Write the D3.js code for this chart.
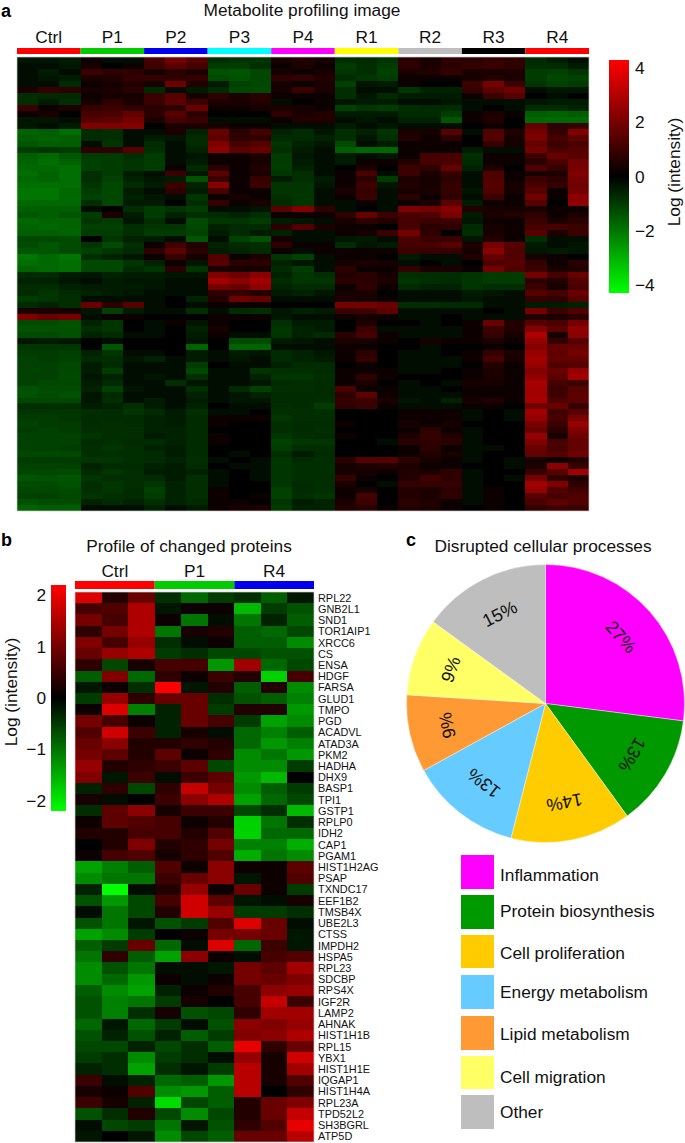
<!DOCTYPE html>
<html><head><meta charset="utf-8">
<script src="https://cdn.jsdelivr.net/npm/d3@7"></script>
<style>html,body{margin:0;padding:0;background:#fff}svg{display:block}text{font-family:"Liberation Sans",Arial,sans-serif;fill:#111}</style>
</head><body><div id="c"></div>
<script>
const metaboliteGroups=["Ctrl","P1","P2","P3","P4","R1","R2","R3","R4"];
const metaboliteGroupColors=["#ff0000","#00cc00","#0000ee","#00ffff","#ff00ff","#ffff00","#bebebe","#000000","#ff0000"];
const metaboliteTicks=[4,2,0,-2,-4];
const metaboliteRows=[
[-.4,-.4,-.5,.2,-.2,-.2,1.2,2.0,1.5,-.8,-.9,-.9,.5,.6,.4,-.8,-.7,-.9,.7,.4,.8,.7,.9,.8,-.7,-.5,-.3],
[-.3,-.3,-.4,.4,.1,.3,1.1,1.5,1.2,-1.0,-1.0,-.8,.3,.5,.2,-1.0,-.8,-1.0,.8,.5,.7,.9,1.0,.8,-.8,-.7,-.5],
[-.2,-.5,-.2,1.0,.8,.8,.4,.7,.5,-1.4,-1.5,-1.2,.4,.3,.4,-.9,-.8,-1.1,.5,.6,.9,.5,.5,.5,-1,-1.1,-.9],
[-.3,-.4,-.5,.5,.6,.9,.9,.8,.9,-1.3,-1.4,-1.2,.8,.9,.6,-.7,-.9,-1,.3,.2,.3,.4,.6,.5,-1.0,-1.2,-1.1],
[-.2,-.3,-.7,.3,.4,.6,.4,1.9,.6,-.5,-1.1,-1.2,.4,.3,.5,-1.1,-.4,-.5,.2,.1,.1,1.0,2.0,1.0,-.9,-1.1,-1],
[.5,.9,.8,.4,.5,.7,-.7,-.3,-.5,-.7,-1.2,-1.3,.4,1.0,.5,-.8,-.2,-.2,-.9,-.6,-.6,.9,1.6,1.9,-.3,-.4,-.4],
[-.8,-.7,-.7,.2,.4,.4,1.0,1.5,.4,.8,.5,.7,.2,.3,.3,-.8,-.4,-.7,-.5,-.5,-.5,.2,1.0,1.5,-.1,-.2,-.1],
[-.8,-.5,-.8,.4,.8,.5,1.0,1.6,1.0,.5,.5,.6,-.2,.1,.2,-.4,-.5,-.5,-.3,-.3,-.4,-.2,-.2,-.2,-.4,-.5,-.5],
[1.0,.3,.5,.9,1.0,.8,.7,.8,1.8,.3,.2,.4,.5,.4,.3,-1.1,-.9,-1,-.8,-.7,-.7,-.2,-.1,-.3,-.7,-.7,-.6],
[.2,.5,.1,1.2,1.3,1.7,.7,1.5,.7,-.1,.1,-.1,.8,.5,.6,-.5,-.5,-.5,-.7,-.7,-1.0,.3,.5,.2,-1.6,-1.7,-1.6],
[-.4,-.4,-.2,1.5,1.6,2.0,.5,1.2,1,-.2,-.2,-.3,.3,.6,.6,-.3,-.4,-.3,-.6,-.6,-1.5,.2,.6,.1,-1.8,-1.8,-1.8],
[-.4,-.3,-.5,2.2,2.2,2.3,-.1,.5,.5,.4,.3,.3,-.3,-.3,-.3,-.5,-.3,-.4,-.2,-.2,-.3,-.1,.2,-.1,1.7,.8,.9],
[-1.7,-1.6,-1.9,-.7,-.8,-.2,-.2,.5,-.6,1.8,.7,1.2,-.6,-.7,-.4,-.8,-.6,-.9,.5,.4,1.5,-.3,1.4,.6,2.0,.9,2.2],
[-1.6,-1.7,-1.6,-.7,-.8,-.3,-.5,-.4,-.7,1.6,.8,.8,-.7,-.7,-.6,-.8,-.4,-.8,.6,.3,.7,.1,1.5,.4,2.1,1.2,1.6],
[-1.5,-1.6,-1.6,-.2,-.9,-.2,-.7,-.3,-.7,2.2,1.2,1.5,-.9,-.6,-.4,-1.3,-.2,-.5,.2,.3,.2,.1,.9,.4,1.7,1.0,1.3],
[-1.0,-.9,-1.0,.8,.8,1.5,-.8,-.3,-.6,2.4,1.6,1.8,-.8,-.5,-.3,-1.6,-1.8,-1.8,.2,.2,.2,-.5,-.3,-.3,2.0,1.3,1.5],
[-1.6,-1.8,-1.5,-1.0,-1.0,-.8,-1,-.3,-.4,.3,.3,.5,-1.0,-.4,-.2,-.5,-.3,-.4,.3,1.2,1.3,-.8,.3,.2,1.0,1.8,1.5],
[-1.7,-1.9,-1.7,-1.1,-1.0,-.9,-1,-.2,-.5,.2,.2,.4,-1,-.5,-.3,-.5,.3,.2,.6,1.2,1.3,-.7,.2,.2,.7,1.3,2.0],
[-1.8,-1.8,-1.9,-1.1,-1.0,-.9,-1,.2,-.7,.7,.2,.6,-1.0,-.6,-.3,.1,.5,.1,1.0,.8,1.7,-.6,.5,.1,1.4,.9,2.0],
[-1.9,-1.7,-1.9,-.8,-1.0,-.5,-.3,1.0,-.4,1.6,.3,.5,-.9,-.8,-.3,.2,1.3,-.2,1.0,.5,.9,-.3,1.4,.3,.4,.5,2.2],
[-1.8,-1.7,-1.9,-.8,-1.1,-.6,-.4,-.5,-1.4,1.0,.3,.9,-.5,-.8,-.5,.2,.7,-1.0,.5,.4,.7,-.3,1.4,.3,1.0,.7,2.0],
[-1.9,-1.9,-1.9,-.9,-1.2,-.7,-.5,1.0,-.6,2.3,.2,1.0,-.9,-.9,-.4,.3,1.1,-.4,.6,.4,.9,-.3,1.5,.4,1.3,.9,1.9],
[-2.0,-2.0,-1.8,-1.0,-1.2,-.5,-.2,.8,-.5,1.3,.3,.2,-.9,-.9,-.3,.5,.9,-.3,.4,.5,.9,-.4,1.4,.4,1.5,.2,2.0],
[-2.0,-2.0,-1.8,-1.1,-1.2,-.6,-.4,-.3,-.9,.2,.4,.2,-.8,-.9,-.2,.3,1.0,-.2,.7,.3,.8,-.3,1.0,.3,1.9,.2,2.4],
[-1.8,-1.8,-1.8,-.8,-1.2,-.5,-.5,-.1,-.8,.9,.2,.5,-.7,-.9,-.3,-.2,.3,-.3,.3,.5,1.6,-.5,.2,.2,1.5,.1,2.5],
[-1.6,-1.6,-1.6,-.2,.1,-.8,-1.0,-.9,-1.0,-.3,-.2,-.4,1.5,2.2,.8,-.3,-.1,-.2,2.2,2.0,2.3,.6,.4,.4,.5,.3,.2],
[-1.5,-1.6,-1.5,-1.0,.5,-.5,-1.0,-.6,-.8,-.7,-.6,-.8,.2,.3,.3,.8,1.8,1.0,1.3,1.4,2.1,-.5,.5,.6,.8,.3,.5],
[-1.8,-1.7,-1.7,-.9,-1.0,-.4,-.8,-.3,-1.3,-.9,-.9,-1.0,-.5,-.4,-.2,.4,.7,.6,1.2,1.0,1.0,-.4,.3,.3,1.0,.5,.7],
[-1.7,-1.8,-1.7,-1.1,-1.1,-.8,-.9,-.9,-1.2,-.6,-.7,-.7,.7,1.4,.5,.3,.2,.1,1.2,.7,.8,-.7,.4,.3,1.2,1.2,1.0],
[-1.6,-1.6,-1.7,-1.0,-1.0,-.8,-1.0,-1.0,-1.1,-.5,-.7,-.5,-.6,-.3,-.3,.3,.4,1.0,2.0,.8,.1,-.8,.4,.2,1.5,.5,1.0],
[-1.2,-1.2,-1.3,-.1,-.9,-.6,-.5,-.2,-1.5,-.2,-1.1,-1.4,.4,-.3,-.2,-.4,-.5,-.3,1.3,1.0,1.0,-.4,.6,.3,-.8,-.2,-.3],
[-1.3,-1.5,-1.3,-.9,-1.3,-.8,.2,1.1,.6,-.6,-.7,-.8,.7,.3,.2,-.7,-.4,-.5,1.2,1.2,1.5,.5,2.0,1.5,-.5,-.3,-.4],
[-1.5,-1.5,-1.3,-1.1,-.9,-.7,.8,1.6,.7,-.5,-.6,-.7,.2,-.2,.2,.3,.3,.3,1.0,.9,.9,.4,2.4,1.4,-.4,-.5,-.4],
[-2.0,-1.8,-2.0,-.8,-.6,-.4,.2,.9,.4,1.4,.3,.5,-.9,-1.1,-.3,.2,.2,.1,-.5,-.3,-.2,.6,1.7,1.4,.4,.3,.1],
[-1.9,-1.8,-1.9,-1.2,-1.2,-.9,-.6,.3,-.4,1.5,.7,.7,-.6,-.4,-.3,.4,.5,.4,-.2,-.1,-.2,.1,1.4,1.5,.9,.3,.7],
[-1.7,-1.8,-1.9,-1.2,-1.2,-.7,-.9,.7,-.9,.5,.4,.4,-.7,-1.0,-.2,.7,.3,.2,.9,.5,.5,.2,2.0,1.4,1.0,.5,.6],
[-.7,-.7,-.5,-.4,-.6,-.5,-.5,-.4,-.4,2.2,1.9,2.4,-.6,-.9,-.8,.6,.7,.4,-.8,-.8,-.8,-.9,-1.0,-1.0,2.0,1.2,1.8],
[-.6,-.6,-.4,-.3,-.5,-.4,-.4,-.3,-.3,2.8,2.4,2.8,-.7,-.9,-.9,.7,.7,.5,-.9,-.8,-.7,-.9,-1,-1,.8,.6,1.4],
[-.7,-.7,-.6,-.5,-.5,-.5,-.4,-.3,-.3,2.0,1.8,2.5,-.6,-.7,-.7,.3,.8,.3,-.7,-.6,-.6,-.9,-.8,-.8,1.0,.4,1.3],
[-.7,-.9,-.7,-.6,-.5,-.4,-.3,-.2,-.2,.8,.9,.6,-.5,-.6,-.4,.4,.5,.1,-.3,-.3,-.2,-.5,-.4,-.3,1.5,1.2,1.8],
[-1.0,-.9,-.8,-.3,-.3,-.2,-.2,-.1,-.6,.6,1.9,1.7,-.3,-.3,-.2,.5,.4,.2,-.3,-.3,-.2,-.4,-.3,-.2,.9,.8,1.5],
[-.7,-.6,-.8,1.8,.7,1.5,-.2,-.1,-.2,.2,.3,.2,.1,.1,.1,2.0,2.0,1.8,-.8,-.8,-.7,-.7,-.2,-.3,-.5,-.5,-.6],
[.5,.5,.4,-.4,-1.1,-.5,-.2,-.3,-.8,-.3,-.7,-.8,-.4,-.6,-.5,1.0,1.1,1.6,-.3,-.3,-.2,-.2,-.1,-.2,2.0,1.0,1.4],
[2.2,1.8,2.0,-.2,.3,.3,-.1,-.1,-.1,.2,.2,.2,-.4,-.3,-.3,.3,.4,.2,-.2,-.2,-.1,-.3,-.2,-.2,.6,.5,.7],
[-1.3,-1.3,-1.4,-.6,-.9,-.1,-.3,.2,-.4,.3,-.1,.1,-.8,-.5,-.5,-.1,.5,-.1,-.1,-.2,.1,.2,1.8,.6,1.5,1.3,2.0],
[-1.4,-1.4,-1.4,-.8,-.9,-.1,-.2,.1,-.6,.4,-.1,0,-.9,-.6,-.5,-.1,1.0,-.3,-.2,-.3,-.3,.3,1.0,.6,2.3,1.6,2.5],
[-1.3,-1.3,-1.4,-.6,-.7,-.2,-.2,-.1,-.5,.3,-.2,-.2,-.9,-.6,-.7,.7,1.2,.2,-.2,-.2,-.2,.3,.9,.4,3.0,.4,2.4],
[-.4,-.5,-.4,-.1,-.2,0,-.1,.1,-.4,-.1,-1.3,-1.3,-.5,-.4,-.3,.5,.4,.2,-.1,.4,.2,.2,.5,.3,2.6,.9,1.5],
[-.9,-.9,-.9,.1,-1.5,-.1,-.1,0,-1.7,.1,-1.7,-1.7,-.3,-.3,-.2,.3,.2,.1,-.1,-.2,-.1,.1,.2,.1,2.3,1.7,1.8],
[-1.0,-1.0,-1.1,-.6,-.9,-.2,-.2,0,-.5,-.2,-.5,-.4,-.7,-.6,-.4,.3,.7,.1,-.3,-.3,-.1,.3,.9,.5,2.6,1.6,2.0],
[-1.1,-1.0,-1.1,-.7,-.8,-.4,-.6,-.3,-.5,-.3,-.4,-.3,-.7,-.6,-.5,.2,.9,.1,-.3,-.3,-.2,.3,1.2,.4,2.8,1.7,1.7],
[-1.1,-1.1,-1.2,-.5,-.7,-.2,-.3,-.3,-1.0,-.1,-.3,-.3,-.6,-.7,-.7,.1,.3,.1,-.2,-.2,-.2,.1,.6,.3,2.6,1.4,1.5],
[-1.1,-1.1,-1.2,-.5,-1.0,-.2,-.3,-.2,-1.2,-.2,-.3,-.9,-.8,-.8,-.7,.2,.3,.2,-.2,-.2,-.1,.2,.5,.3,2.3,1.8,2.6],
[-1.1,-1.1,-1.3,-.4,-.6,-.2,-.4,-.2,-.8,-.2,-.3,-.6,-.9,-.9,-.8,.3,.8,.2,-.1,-.1,-.1,.3,.5,.2,2.5,1.6,2.8],
[-1.1,-1.2,-1.2,-.5,-.7,-.3,-.3,-.8,-.4,-.3,-.3,-.4,-.7,-.8,-.7,.2,.5,.1,-.2,-.1,-.2,.4,.4,.3,2.9,1.2,1.0],
[-1.4,-1.3,-1.3,-.6,-1.1,-.4,-.3,-.2,-.8,-.2,-.7,-1.1,-.8,-.8,-.7,1.3,.2,.3,-.2,-.2,-.1,.2,.2,.3,2.8,1.0,1.5],
[-1.4,-1.3,-1.4,-.4,-.7,-.3,-.3,-.3,-.6,-.2,-.4,-.6,-.7,-.7,-.7,.8,1.6,.2,-.2,-.2,-.2,.3,.2,.3,2.8,1.1,1.6],
[-1.2,-1.2,-1.2,-.4,-.8,-.3,-.5,-.2,-.5,-.2,-.4,-.4,-.7,-.7,-.8,.9,1.0,.5,-.4,-.3,-.6,.4,.6,.2,2.9,1.4,1.6],
[-.8,-.8,-.8,-.5,-.6,-.8,-.5,-.3,-.6,-.1,-.3,-.3,-.8,-.7,-1.0,.8,1.0,.3,-.2,-.2,-.2,.2,.3,.1,1.9,1.8,.9],
[-.9,-.9,-.9,-.8,-.7,-.9,-.7,-.5,-.8,-.2,-.2,-.1,-.8,-.8,-.8,-.1,-.1,-.1,.2,.3,.2,-.2,-.1,-.2,2.8,1.1,1.5],
[-1.0,-1.0,-.9,-.7,-.7,-.7,-.6,-.5,-.7,.3,.2,.2,-.9,-.8,-.8,-.1,.1,-.1,.3,.2,.3,-.2,-.1,-.2,2.6,1.3,2.1],
[-1.1,-1.0,-1.0,-.7,-.8,-.7,-.6,-.5,-.7,.2,.1,-.1,-.8,-.7,-.7,.2,.1,-.1,.4,.2,.4,-.1,.1,.1,2.1,1.0,2.6],
[-1.0,-1.1,-1.0,-.8,-.8,-.8,-.6,-.6,-.7,.1,.1,.1,-.8,-.7,-.8,.1,-.1,-.1,.3,.8,.3,-.2,.1,.1,1.8,.7,2.2],
[-1.1,-1.1,-1.1,-.9,-.8,-.8,-.5,-.6,-.7,.2,.1,0,-.9,-.8,-.7,.2,.1,-.1,.5,.9,.6,-.2,-.1,-.1,2.6,.4,1.9],
[-1.1,-1.1,-1.1,-.7,-.8,-.7,-.7,-.6,-.7,.2,.1,.1,-1.1,-.9,-.9,.1,.1,-.2,.7,.8,.7,-.2,-.1,-.1,2.2,1.3,1.7],
[-1.1,-1.1,-1.0,-.8,-.9,-.8,-.6,-.5,-.7,.1,0,0,-1.0,-.8,-.8,-.1,-.1,-.1,.3,.7,.3,-.2,-.2,-.1,1.8,1.2,1.7],
[-1.2,-1.2,-1.2,-.8,-.8,-.8,-.7,-.5,-.7,-.1,-.2,-.1,-.8,-.5,-.7,.1,.1,-.1,.2,.6,.4,-.2,-.1,-.1,1.7,1.5,1.9],
[-1.0,-1.0,-1.0,-.9,-.9,-.8,-.7,-.6,-.8,-.2,-.1,-.2,-.9,-.7,-.8,.7,1.5,1.5,.8,.4,.2,-.2,-.1,-.2,.4,.3,.6],
[-1.1,-1.1,-1.1,-.6,-.7,-.7,-.6,-.5,-.7,-.1,-.2,-.3,-.9,-.8,-.8,.4,.5,.6,.5,.2,.3,-.1,-.1,-.2,.5,2.4,.9],
[-1.2,-1.2,-1.3,-.7,-.9,-.8,-.5,-.5,-.6,-.2,-.1,-.2,-.9,-.8,-.8,.4,.4,.3,.6,.5,.8,-.2,.1,.1,.9,1.5,2.8],
[-1.5,-1.4,-1.5,-.9,-.8,-.8,-.7,-.5,-.8,-.2,.1,-.2,-.9,-.8,-.8,.9,.2,-.1,.6,1.1,.8,-.2,-.1,-.2,2.0,.8,.5],
[-1.3,-1.3,-1.4,-.8,-.9,-.8,-.9,-.6,-.8,-.2,-.1,-.1,-.9,-.7,-.8,.5,.1,-.2,.9,.9,.9,-.2,.1,.1,2.8,2.2,.8],
[-1.2,-1.2,-1.3,-.8,-.9,-.7,-1.1,-.6,-.8,.2,.1,.1,-1.1,-.7,-.8,.3,.4,-.1,.6,.5,.7,-.2,.2,.1,2.6,1.4,1.1],
[-1.1,-1.1,-1.2,-.9,-.8,-.7,-1.0,-.6,-.8,.3,.1,.2,-1.1,-.8,-.9,.2,1.2,-.1,.6,.5,.8,-.2,.3,.1,1.5,1.2,1.4],
[-1.4,-1.3,-1.3,-.6,-.7,-.6,-.8,-.6,-.7,.2,.2,.1,-.9,-.5,-.6,.5,1.0,.1,.7,.6,.3,-.2,.3,-.1,1.3,1.6,1.4],
[-1.7,-1.6,-1.6,-.3,-.3,-.3,-.6,-.3,-.5,.3,.4,.5,-1.0,-.6,-.6,.6,.7,.2,.6,.5,.2,-.1,.2,-.1,.9,1.1,1.0]
];
const proteinGroups=["Ctrl","P1","R4"];
const proteinGroupColors=["#ff0000","#00cc00","#0000ee"];
const proteinTicks=[2,1,0,-1,-2];
const proteins=["RPL22","GNB2L1","SND1","TOR1AIP1","XRCC6","CS","ENSA","HDGF","FARSA","GLUD1","TMPO","PGD","ACADVL","ATAD3A","PKM2","HADHA","DHX9","BASP1","TPI1","GSTP1","RPLP0","IDH2","CAP1","PGAM1","HIST1H2AG","PSAP","TXNDC17","EEF1B2","TMSB4X","UBE2L3","CTSS","IMPDH2","HSPA5","RPL23","SDCBP","RPS4X","IGF2R","LAMP2","AHNAK","HIST1H1B","RPL15","YBX1","HIST1H1E","IQGAP1","HIST1H4A","RPL23A","TPD52L2","SH3BGRL","ATP5D"];
const proteinRows=[
[1.9,.3,.9,-.4,-.9,-.5,-.4,-.8,-.2],
[.6,.7,1.5,-.2,.1,.1,-1.6,-.5,-.7],
[1.0,.6,1.5,.1,-1.0,-.1,-1.0,-.3,-.8],
[.4,1.0,1.5,-1.0,.2,.3,-.8,-.9,-.6],
[1.1,.6,1.3,-.4,-.1,.1,-.8,-.8,-1.2],
[.9,1.3,1.5,-.5,-.4,-.6,-.6,-.7,-.7],
[.4,-.6,.2,.6,.6,-1.3,1.4,-.9,-.6],
[-.8,1.1,-.9,.4,.1,.5,.3,-1.8,.6],
[-.2,.1,-.4,2.2,-.2,.3,-.8,.3,-1.2],
[-.5,1.3,.4,.9,.9,-.4,-.7,-.8,-1.1],
[.1,1.9,-1.1,-.3,.9,-.5,.3,.3,-1.3],
[1.0,.6,.1,-.3,.9,.6,-.5,-1.4,-1.2],
[.7,1.8,.5,-.3,.2,-.1,-.9,-1.1,-.8],
[.9,1.2,.3,.3,.4,.3,-.9,-1.3,-1.1],
[1.0,.8,.3,.8,.1,.4,-1.2,-1.0,-1.3],
[1.3,.3,.4,.5,.8,-.6,-1.2,-1.2,-.5],
[1.1,-.2,.5,-.1,.5,.8,-1.3,-1.6,0],
[-.3,.4,-.6,.4,1.7,1.0,-1.2,-.8,-.5],
[.2,-.1,0,.5,1.2,1.5,-1.4,-.9,-.6],
[-.4,.8,1.2,.2,.5,.5,-.6,-.4,-1.6],
[.1,.8,.7,.6,.1,.3,-1.8,-1.0,-.4],
[.3,.3,.6,.6,.3,.7,-1.8,-.9,-.9],
[0,.3,1.1,.3,.4,1.0,-1.1,-1.1,-1.5],
[.1,.6,.7,.2,.4,.7,-1.5,-1.0,-1.2],
[-1.4,-1.1,-.8,.7,.1,1.2,.1,.1,.8],
[-1.2,-1.0,-1.0,.5,.9,1.2,-.2,.1,.7],
[-.3,-2.2,-.1,.3,1.3,.1,.9,.1,-.5],
[-.7,-1.3,-.6,.6,1.8,.8,-.2,-.1,.2],
[-.1,-1.0,-.6,.3,1.8,1.3,-.5,-.5,-.4],
[-.7,-1.0,-.2,-.7,-.5,.7,1.9,.9,-.1],
[-1.4,-1.2,-.5,0,.1,1.0,1.0,.9,-.2],
[-.8,-.5,.9,-.9,-.1,1.9,-.9,.5,-.2],
[-1.0,.4,-.8,-1.4,1.2,.1,-.1,.6,.7],
[-1.2,-.7,-1.0,-.1,-.1,-.2,1.0,.8,1.4],
[-1.2,-.9,-1.3,.1,-.1,.1,1.0,.9,1.1],
[-.8,-1.2,-1.4,-.3,.1,.3,.6,1.2,1.3],
[-.7,-1.1,-1.0,-.5,.2,0,.6,1.7,.5],
[-.7,-1.1,-.4,.2,-.7,-.6,.4,1.4,1.4],
[-.9,-.2,-.9,-.5,-.1,-.7,1.2,1.1,1.3],
[-.7,-.3,-.7,-.3,-.8,-.5,1.1,1.2,1.5],
[-.6,-.6,-.3,-.6,-.4,-.8,2.0,.4,.9],
[-.5,-.4,-1.2,-.5,-.4,-.1,1.3,.2,1.8],
[-.3,-.4,-1.4,-.4,-.2,-.5,1.6,.2,1.4],
[.5,-.1,-.3,-.9,-.8,-1.3,1.6,.2,.7],
[.2,.1,.7,-1.2,-1.3,-.8,1.6,0,.4],
[.5,.2,-.3,-1.9,-.6,-.8,.3,.9,1.1],
[-.7,-.4,.3,-.6,-1.2,-.6,.3,.9,1.7],
[-.1,-.6,-.5,-1.0,-.2,-.7,.4,.7,2.0],
[-.2,0,-.2,-1.2,-.6,-.8,.9,.9,1.6]
];
const processNames=["Inflammation","Protein biosynthesis","Cell proliferation","Energy metabolism","Lipid metabolism","Cell migration","Other"];
const processShares=[27,13,14,13,9,9,15];
const processColors=["#ff00ff","#009900","#ffcc00","#66ccff","#ff9933","#ffff66","#bebebe"];

const W=685,H=1143,FONT=17.3;
const svg=d3.select("#c").append("svg").attr("width",W).attr("height",H).attr("viewBox",`0 0 ${W} ${H}`);
const defs=svg.append("defs");
function txt(x,y,s,size,opt={}){
  const t=svg.append("text").attr("x",x).attr("y",y).attr("font-size",size).attr("text-anchor",opt.anchor||"middle").text(s);
  if(opt.bold)t.attr("font-weight","bold").style("fill","#000");
  if(opt.rot!=null)t.attr("transform",`rotate(${opt.rot} ${x} ${y})`);
  return t;
}
function heatColor(max){return d3.scaleLinear().domain([-max,0,max]).range(["#00ff00","#000000","#ff0000"]).clamp(true);}

function heatmap(id,rows,groups,groupColors,box,bar,labelY,maxV,blur){
  const nCols=rows[0].length, rep=nCols/groups.length;
  const x=d3.scaleLinear().domain([0,nCols]).range([box.x0,box.x1]);
  const y=d3.scaleLinear().domain([0,rows.length]).range([box.y0,box.y1]);
  const color=heatColor(maxV);
  defs.append("clipPath").attr("id",id+"Clip").append("rect")
    .attr("x",box.x0).attr("y",box.y0).attr("width",box.x1-box.x0).attr("height",box.y1-box.y0);
  defs.append("filter").attr("id",id+"Blur").attr("x","-2%").attr("y","-2%").attr("width","104%").attr("height","104%")
    .append("feGaussianBlur").attr("stdDeviation",blur);
  const outer=svg.append("g").attr("clip-path",`url(#${id}Clip)`);
  const g=outer.append("g").attr("filter",`url(#${id}Blur)`).attr("shape-rendering","crispEdges");
  g.selectAll("g").data(rows).join("g").each(function(row,i){
    const y0=i===0?box.y0-3:Math.round(y(i)), y1=i===rows.length-1?box.y1+3:Math.round(y(i+1));
    d3.select(this).selectAll("rect").data(row).join("rect")
      .attr("x",(d,j)=>j===0?box.x0-3:Math.round(x(j)))
      .attr("width",(d,j)=>(j===nCols-1?box.x1+3:Math.round(x(j+1)))-(j===0?box.x0-3:Math.round(x(j))))
      .attr("y",y0).attr("height",y1-y0)
      .attr("fill",d=>color(d));
  });
  svg.append("rect").attr("x",box.x0).attr("y",box.y0).attr("width",box.x1-box.x0).attr("height",box.y1-box.y0)
     .attr("fill","none").attr("stroke","#c8c8c8").attr("stroke-width",.7);
  groups.forEach((name,k)=>{
    svg.append("rect").attr("x",x(k*rep)).attr("width",x((k+1)*rep)-x(k*rep)).attr("y",bar[0]).attr("height",bar[1]-bar[0]).attr("fill",groupColors[k]);
    txt((x(k*rep)+x((k+1)*rep))/2,labelY,name,FONT);
  });
  return {x,y};
}
function colorbar(id,x0,x1,y0,y1,maxV,ticks,tx,anchor){
  const color=heatColor(maxV);
  const grad=defs.append("linearGradient").attr("id",id).attr("x1",0).attr("x2",0).attr("y1",0).attr("y2",1);
  [maxV,0,-maxV].forEach((v,i)=>grad.append("stop").attr("offset",i/2).attr("stop-color",color(v)));
  svg.append("rect").attr("x",x0).attr("y",y0).attr("width",x1-x0).attr("height",y1-y0).attr("fill",`url(#${id})`);
  const s=d3.scaleLinear().domain([maxV,-maxV]).range([y0,y1]);
  ticks.forEach(t=>txt(tx,s(t)+6,String(t).replace("-","\u2212"),FONT,{anchor}));
}

/* panel a */
txt(1,16.5,"a",18,{anchor:"start",bold:true});
txt(302,16,"Metabolite profiling image",FONT);
heatmap("hmA",metaboliteRows,metaboliteGroups,metaboliteGroupColors,{x0:17,x1:589,y0:57,y1:511},[48,54],43,4.4,"0.6 0.7");
colorbar("cbA",609,629,60,293,4.3,metaboliteTicks,635,"start");
txt(680,172,"Log (intensity)",FONT,{rot:-90});

/* panel b */
txt(1,546,"b",18,{anchor:"start",bold:true});
txt(189,552,"Profile of changed proteins",FONT);
const hb=heatmap("hmB",proteinRows,proteinGroups,proteinGroupColors,{x0:75,x1:314,y0:592,y1:1142},[581,589],577,2.2,"0.6 0.6");
proteins.forEach((p,i)=>txt(318,hb.y(i+.5)+4,p,10.9,{anchor:"start"}));
colorbar("cbB",51,66,585,811,2.2,proteinTicks,46,"end");
txt(16.5,692,"Log (intensity)",FONT,{rot:-90});

/* panel c */
txt(406,546,"c",18,{anchor:"start",bold:true});
txt(543,552,"Disrupted cellular processes",FONT);
const pieData=d3.pie().sort(null)(processShares);
const arc=d3.arc().innerRadius(0).outerRadius(139);
const pieG=svg.append("g").attr("transform","translate(545.5,703.5)");
pieG.selectAll("path").data(pieData).join("path").attr("d",arc).attr("fill",(d,i)=>processColors[i]).attr("stroke","#fff").attr("stroke-width",.4);
pieG.selectAll("text").data(pieData).join("text")
  .attr("text-anchor","middle").attr("font-size",18).attr("dy","0.36em")
  .attr("transform",d=>{const a=(d.startAngle+d.endAngle)/2,deg=a*180/Math.PI,r=101;return `translate(${r*Math.sin(a)},${-r*Math.cos(a)}) rotate(${deg})`;})
  .text(d=>d.value+"%");
const legendTop=[855,895,935,975,1016,1056,1095], legendH=[34,34,33,34,34,33,34], legendBase=[881,917,959,998,1040,1083,1118];
processNames.forEach((n,i)=>{
  svg.append("rect").attr("x",461).attr("y",legendTop[i]).attr("width",33).attr("height",legendH[i]).attr("fill",processColors[i]);
  txt(500,legendBase[i],n,FONT,{anchor:"start"});
});
</script></body></html>
